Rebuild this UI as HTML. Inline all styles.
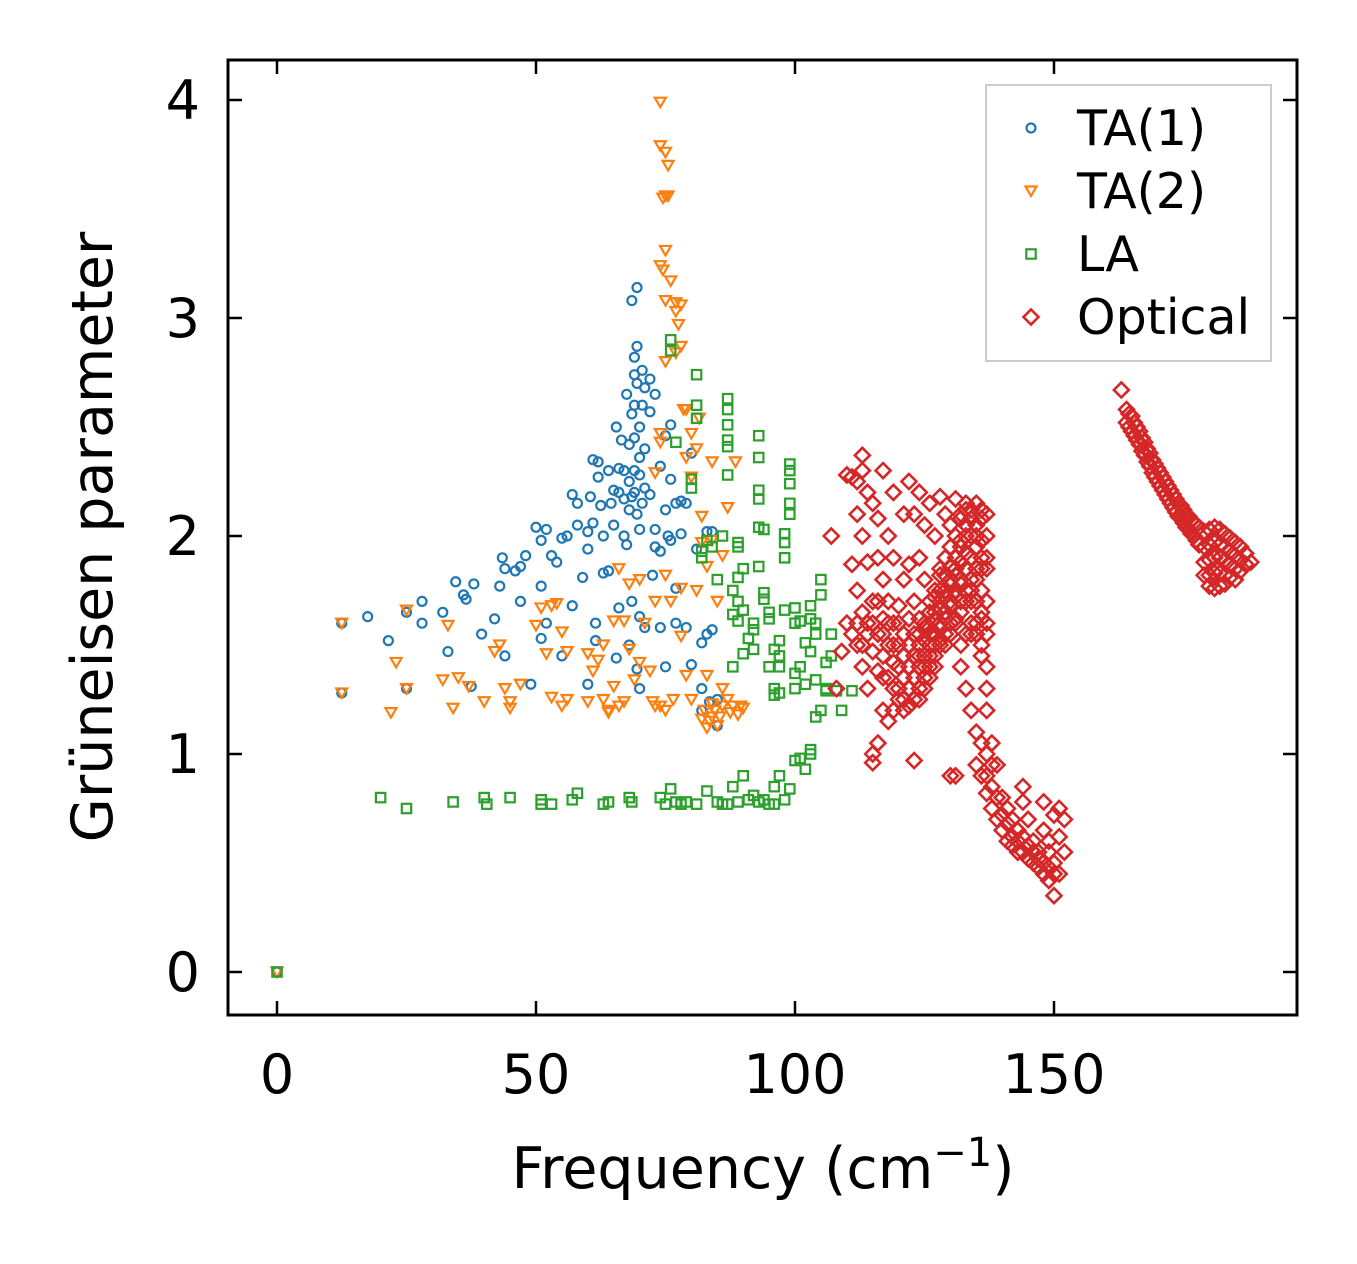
<!DOCTYPE html>
<html><head><meta charset="utf-8"><style>
html,body{margin:0;padding:0;background:#fff}
svg{display:block;font-family:"DejaVu Sans","Liberation Sans",sans-serif}
</style></head><body>
<svg id="chart" width="1357" height="1264" viewBox="0 0 1357 1264" xmlns="http://www.w3.org/2000/svg">
<rect x="0" y="0" width="1357" height="1264" fill="#fff"/>
<g id="marks"></g>
<g id="axes"></g>
<text x="763" y="1188" font-size="57" text-anchor="middle">Frequency (cm<tspan dy="-22" font-size="40">−1</tspan><tspan dy="22">)</tspan></text>
<text transform="translate(112,537) rotate(-90)" font-size="57" text-anchor="middle">Grüneisen parameter</text>
<g id="legend">
<rect x="986" y="85" width="285" height="276" fill="#fff" stroke="#ccc" stroke-width="2"/>
</g>
</svg>
<script>
const xTicks=[0,50,100,150];
const yTicks=[0,1,2,3,4];
const seriesNames=["TA(1)","TA(2)","LA","Optical"];
const seriesColors=["#1f77b4","#ff7f0e","#2ca02c","#d62728"];
const ta1=[[0,0],[12.5,1.6],[12.5,1.28],[17.5,1.63],[21.5,1.52],[25,1.3],[25,1.65],[28,1.6],[28,1.7],[32,1.65],[33,1.47],[34.5,1.79],[36,1.73],[36.5,1.71],[38,1.78],[37.5,1.31],[39.5,1.55],[42,1.62],[43,1.77],[43.5,1.9],[44,1.85],[44,1.45],[46,1.84],[47,1.86],[47,1.7],[48,1.91],[49,1.32],[50,2.04],[51,1.98],[51,1.53],[51,1.77],[52,1.6],[52,2.03],[53,1.91],[54,1.88],[55,1.45],[55,1.99],[56,2.0],[57,2.19],[57,1.68],[58,2.05],[58,2.15],[59,1.81],[60,2.02],[60,1.94],[60,1.32],[60.5,2.18],[61,2.35],[61,2.06],[61.5,1.6],[61.5,1.52],[62,2.34],[62,2.27],[62.5,2.14],[63,2.0],[63,1.83],[64,1.84],[64,2.3],[65,2.21],[65,2.05],[65.5,1.44],[65.5,2.5],[66,2.31],[66,1.67],[66.5,2.44],[67,2.17],[67,2.0],[67.5,1.96],[67.5,2.65],[68,2.42],[68,1.5],[68,2.12],[68.5,2.56],[68.5,1.7],[68.5,3.08],[69,2.82],[69,2.74],[69,2.6],[69,2.3],[69,2.2],[69.5,2.87],[69.5,3.14],[69.5,2.7],[69.5,1.39],[70,2.5],[70,2.03],[70,1.63],[70,1.3],[70,2.36],[70.5,2.76],[70.5,2.15],[71,2.68],[71,2.22],[71,1.58],[72,2.72],[72,2.57],[72,2.19],[72.5,1.82],[73,2.65],[73,1.95],[73,2.03],[74,2.32],[74,1.58],[74,1.93],[75,2.46],[75,2.12],[75,1.4],[75.5,2.0],[76,2.51],[76,2.26],[76,1.98],[77,1.6],[77,2.15],[77,1.76],[78,2.16],[78,2.01],[79,2.15],[79,1.58],[80,1.41],[80,2.38],[81,1.94],[82,1.51],[82,1.3],[83,1.55],[83,2.02],[83.5,1.24],[84,1.57],[85,1.13],[85,1.25],[84,2.02],[82,1.2],[68,2.25],[69,2.45],[70,2.28],[71,2.4],[67,2.3],[68.5,2.18],[69.5,2.1],[70.5,2.6],[66,2.2],[64.5,2.15]];
const ta2=[[0,0],[12.5,1.6],[12.5,1.28],[22,1.19],[23,1.42],[25,1.66],[25,1.3],[32,1.34],[33,1.59],[34,1.21],[35,1.35],[37,1.31],[40,1.24],[42,1.47],[43,1.5],[44,1.3],[45,1.21],[45,1.24],[47,1.32],[50,1.59],[51,1.67],[52,1.46],[53,1.68],[53,1.26],[54,1.69],[55,1.22],[55,1.56],[56,1.47],[56,1.25],[60,1.24],[60,1.46],[61,1.38],[62,1.43],[63,1.5],[63,1.25],[64,1.2],[64,1.19],[65,1.61],[65,1.31],[66,1.22],[66,1.85],[67,1.24],[67,1.61],[68,1.48],[68,1.78],[69,1.34],[70,1.8],[70,1.42],[71,1.6],[72,1.38],[72.5,1.24],[73,1.22],[73,1.7],[73,2.29],[74,1.22],[74,2.43],[74,3.99],[74,3.79],[74.5,3.55],[75,3.76],[75,3.56],[74.5,3.22],[75,3.31],[74,3.24],[75.5,3.7],[75.5,3.56],[75,3.08],[76,3.17],[75,2.8],[74,2.47],[75,1.82],[75,1.2],[76,1.7],[76.5,1.25],[77,3.07],[77,3.03],[77,2.84],[77.5,2.97],[78,3.06],[78,2.87],[78,1.76],[78,1.54],[78.5,2.58],[79,2.36],[79,1.36],[79,2.58],[80,1.25],[80,2.47],[80,2.27],[81,2.4],[81,1.75],[81.5,2.54],[82,2.09],[82,1.97],[82,1.16],[83,1.12],[83,1.86],[83,1.36],[84,1.17],[84,2.34],[84,1.98],[84,1.23],[85,1.7],[85,1.13],[86,1.91],[86,1.3],[87,2.13],[87,1.25],[87.5,1.19],[88,1.22],[88.5,2.34],[89,1.18],[89.5,1.22],[90,1.21],[82.5,1.2],[83.5,1.15],[84.5,1.2],[86,1.22],[85.5,1.17]];
const la=[[0,0],[20,0.8],[25,0.75],[34,0.78],[40,0.8],[40.5,0.77],[45,0.8],[51,0.79],[51,0.77],[53,0.77],[57,0.79],[58,0.82],[63,0.77],[64,0.78],[68,0.8],[68.5,0.78],[74,0.8],[75,0.77],[76,0.84],[77,0.78],[78,0.77],[79,0.78],[81,0.77],[83,0.83],[85,0.78],[86,0.77],[87,0.77],[88,0.85],[89,0.78],[90,0.9],[91,0.79],[92,0.81],[93,0.78],[94,0.79],[95,0.77],[96,0.85],[96,0.77],[97,0.9],[98,0.79],[99,0.84],[100,0.97],[101,0.98],[102,0.93],[103,1.0],[103,1.02],[104,1.17],[105,1.2],[106,1.3],[107,1.45],[108,1.29],[109,1.2],[111,1.29],[76,2.9],[76,2.85],[77,2.43],[80,2.22],[81,2.6],[81,2.74],[81,2.54],[80,2.26],[82,1.9],[82,1.93],[83,1.98],[84,1.95],[85,1.8],[86,2.0],[87,2.63],[87,2.58],[87,2.51],[87,2.44],[87,2.41],[87,2.28],[88,1.75],[88,1.64],[88,1.4],[89,1.97],[89,1.81],[89,1.7],[89,1.61],[89,1.95],[90,1.85],[90,1.46],[90,1.66],[91,1.53],[92,1.6],[92,1.57],[92,1.48],[93,2.04],[93,1.86],[93,2.46],[93,2.36],[93,2.21],[93,2.17],[94,2.03],[94,1.74],[94,1.71],[95,1.65],[95,1.4],[95,1.62],[96,1.3],[96,1.27],[96,1.48],[97,1.45],[97,1.4],[97,1.28],[97,1.52],[98,1.66],[98,1.9],[98,2.01],[98,1.97],[99,2.1],[99,2.15],[99,2.33],[99,2.3],[99,2.24],[100,1.67],[100,1.6],[100,1.37],[100,1.3],[101,1.61],[101,1.4],[102,1.51],[102,1.32],[103,1.68],[103,1.47],[103,1.62],[104,1.6],[104,1.55],[104,1.34],[105,1.8],[105,1.73],[106,1.42],[106,1.29],[107,1.55]];
const optical=[[107,2.0],[108,1.3],[109,1.47],[110,2.28],[110,1.6],[111,2.27],[111,1.87],[111,1.55],[112,2.25],[112,2.1],[112,1.75],[112,1.5],[113,2.37],[113,2.3],[113,2.0],[113,1.65],[113,1.4],[114,2.2],[114,1.88],[114,1.6],[114,1.3],[115,2.15],[115,1.7],[115,1.47],[115,1.0],[115,0.96],[116,2.08],[116,1.9],[116,1.55],[116,1.38],[116,1.05],[117,2.3],[117,1.8],[117,1.62],[117,1.45],[117,1.2],[118,2.0],[118,1.7],[118,1.5],[118,1.35],[118,1.15],[119,2.2],[119,1.9],[119,1.6],[119,1.42],[119,1.3],[120,1.68],[120,1.5],[120,1.4],[120,1.25],[121,2.1],[121,1.8],[121,1.55],[121,1.45],[121,1.2],[122,2.25],[122,1.87],[122,1.62],[122,1.5],[122,1.3],[123,2.1],[123,1.7],[123,1.55],[123,1.35],[123,0.97],[124,2.2],[124,1.9],[124,1.62],[124,1.45],[124,1.25],[125,2.05],[125,1.8],[125,1.58],[125,1.4],[125,1.3],[126,2.15],[126,1.7],[126,1.55],[126,1.45],[126,1.35],[127,2.0],[127,1.75],[127,1.62],[127,1.5],[127,1.4],[128,2.18],[128,1.85],[128,1.7],[128,1.6],[128,1.52],[129,2.1],[129,1.9],[129,1.72],[129,1.62],[129,1.5],[130,2.05],[130,1.8],[130,1.7],[130,1.55],[130,0.9],[131,2.17],[131,1.85],[131,1.75],[131,1.6],[131,0.9],[132,2.1],[132,1.95],[132,1.8],[132,1.65],[132,1.4],[133,2.15],[133,2.0],[133,1.85],[133,1.7],[133,1.3],[134,2.12],[134,1.9],[134,1.75],[134,1.55],[134,1.2],[135,2.15],[135,2.0],[135,1.8],[135,1.6],[135,1.1],[135,0.95],[136,2.12],[136,1.9],[136,1.65],[136,1.45],[136,1.05],[137,2.1],[137,1.85],[137,1.6],[137,1.3],[137,1.0],[137,1.2],[136,0.9],[137,0.82],[138,0.85],[138,0.75],[139,0.8],[139,0.7],[140,0.72],[140,0.65],[141,0.68],[141,0.6],[142,0.62],[142,0.58],[143,0.6],[143,0.55],[144,0.85],[144,0.78],[144,0.55],[145,0.7],[145,0.52],[146,0.6],[146,0.5],[147,0.55],[147,0.48],[148,0.78],[148,0.65],[148,0.45],[149,0.6],[149,0.42],[150,0.72],[150,0.5],[150,0.35],[151,0.75],[151,0.62],[151,0.45],[152,0.7],[152,0.55],[163,2.67]];
const opticalCluster=[[121,1.25],[121,1.35],[122,1.22],[122,1.4],[123,1.25],[123,1.45],[124,1.3],[124,1.4],[124,1.5],[124,1.55],[125,1.35],[125,1.45],[125,1.52],[125,1.6],[126,1.4],[126,1.5],[126,1.58],[126,1.65],[127,1.45],[127,1.55],[127,1.65],[127,1.72],[128,1.5],[128,1.58],[128,1.66],[128,1.75],[128,1.82],[129,1.55],[129,1.65],[129,1.75],[129,1.82],[130,1.6],[130,1.68],[130,1.78],[130,1.86],[130,1.95],[131,1.62],[131,1.72],[131,1.82],[131,1.9],[131,2.0],[132,1.5],[132,1.7],[132,1.78],[132,1.88],[132,1.98],[132,2.08],[133,1.55],[133,1.75],[133,1.92],[133,2.05],[133,2.12],[134,1.6],[134,1.7],[134,1.8],[134,2.0],[134,2.08],[135,1.55],[135,1.7],[135,1.85],[135,1.95],[135,2.05],[136,1.5],[136,1.62],[136,1.75],[136,1.85],[136,1.98],[136,2.08],[137,1.4],[137,1.55],[137,1.7],[137,1.9],[137,2.0],[116,1.7],[117,1.55],[118,1.6],[119,1.5],[120,1.6],[114,1.55],[115,1.6],[113,1.5],[112,1.6],[117,1.35],[119,1.2],[120,1.3],[138,1.05],[139,0.95],[138,0.95],[137,0.9],[140,0.8],[141,0.75],[142,0.7],[143,0.65],[144,0.62],[145,0.58],[146,0.55],[147,0.52],[148,0.5],[149,0.48],[150,0.45],[149,0.55]];
const opticalBand=[[164,2.58],[164,2.52],[164.5,2.56],[164.5,2.5],[165,2.55],[165,2.48],[165.5,2.52],[165.5,2.46],[166,2.5],[166,2.44],[166.5,2.48],[166.5,2.42],[167,2.45],[167,2.39],[167.5,2.43],[167.5,2.37],[168,2.4],[168,2.34],[168.5,2.38],[168.5,2.32],[169,2.35],[169,2.29],[169.5,2.33],[169.5,2.27],[170,2.31],[170,2.25],[170.5,2.29],[170.5,2.23],[171,2.27],[171,2.21],[171.5,2.25],[171.5,2.19],[172,2.23],[172,2.17],[172.5,2.21],[172.5,2.15],[173,2.19],[173,2.13],[173.5,2.17],[173.5,2.11],[174,2.15],[174,2.09],[174.5,2.14],[174.5,2.08],[175,2.12],[175,2.06],[175.5,2.1],[175.5,2.04],[176,2.09],[176,2.03],[176.5,2.07],[176.5,2.01],[177,2.06],[177,2.0],[177.5,2.05],[177.5,1.98],[178,2.04],[178,1.96],[179,2.02],[179,1.95],[179,1.88],[179,1.82],[180,2.03],[180,1.96],[180,1.89],[180,1.82],[180,1.77],[181,2.04],[181,1.97],[181,1.9],[181,1.83],[181,1.76],[182,2.03],[182,1.96],[182,1.9],[182,1.83],[182,1.77],[183,2.01],[183,1.95],[183,1.89],[183,1.82],[183,1.78],[184,1.99],[184,1.93],[184,1.87],[184,1.81],[185,1.97],[185,1.91],[185,1.85],[185,1.8],[186,1.95],[186,1.89],[186,1.84],[187,1.92],[187,1.87],[188,1.88]];

const NS="http://www.w3.org/2000/svg";
const X0=228,X1=1297,Y0=60,Y1=1015;
function sx(v){return 277+v*(1054-277)/150;}
function sy(v){return 972-v*(972-100)/4;}
function mk(tag,attrs,parent){const e=document.createElementNS(NS,tag);for(const k in attrs)e.setAttribute(k,attrs[k]);parent.appendChild(e);return e;}
function marker(kind,x,y,color,parent){
  let e;
  if(kind===0)e=mk('circle',{cx:x,cy:y,r:4.5},parent);
  else if(kind===1)e=mk('path',{d:`M${x-5.5},${y-4.5}L${x+5.5},${y-4.5}L${x},${y+5}Z`},parent);
  else if(kind===2)e=mk('rect',{x:x-4.7,y:y-4.7,width:9.4,height:9.4},parent);
  else e=mk('path',{d:`M${x},${y-7.5}L${x+7.5},${y}L${x},${y+7.5}L${x-7.5},${y}Z`},parent);
  e.setAttribute('fill','none');e.setAttribute('stroke',color);e.setAttribute('stroke-width',kind===3?'2.6':'2.2');
  return e;
}
const marks=document.getElementById('marks');
const allSeries=[ta1,ta2,la,optical.concat(opticalCluster,opticalBand)];
const seriesKeys=['ta1','ta2','la','optical'];
allSeries.forEach((s,i)=>{
  const g=mk('g',{},marks);
  
  
  s.forEach(p=>{
    const m=marker(i,sx(p[0]),sy(p[1]),seriesColors[i],g);
    
    
  });
});
const axes=document.getElementById('axes');
const frame=mk('rect',{x:X0,y:Y0,width:X1-X0,height:Y1-Y0,fill:'none',stroke:'#000','stroke-width':3},axes);


const TL=14;
xTicks.forEach(t=>{
  const x=sx(t);
  const a=mk('line',{x1:x,x2:x,y1:Y1,y2:Y1-TL,stroke:'#000','stroke-width':2.5},axes);
  
  
  const b=mk('line',{x1:x,x2:x,y1:Y0,y2:Y0+TL,stroke:'#000','stroke-width':2.5},axes);
  
  
  const l=mk('text',{x:x,y:1093,'font-size':54,'text-anchor':'middle'},axes);
  l.textContent=String(t);
  
  
});
yTicks.forEach(t=>{
  const y=sy(t);
  const a=mk('line',{x1:X0,x2:X0+TL,y1:y,y2:y,stroke:'#000','stroke-width':2.5},axes);
  
  
  const b=mk('line',{x1:X1,x2:X1-TL,y1:y,y2:y,stroke:'#000','stroke-width':2.5},axes);
  
  
  const l=mk('text',{x:200,y:y+19,'font-size':54,'text-anchor':'end'},axes);
  l.textContent=String(t);
  
  
});
const legend=document.getElementById('legend');
seriesNames.forEach((n,i)=>{
  const y=128+i*63;
  const g=mk('g',{},legend);
  
  
  marker(i,1031,y,seriesColors[i],g);
  const t=mk('text',{x:1077,y:y+17,'font-size':49},g);
  t.textContent=n;
});
</script>
</body></html>
